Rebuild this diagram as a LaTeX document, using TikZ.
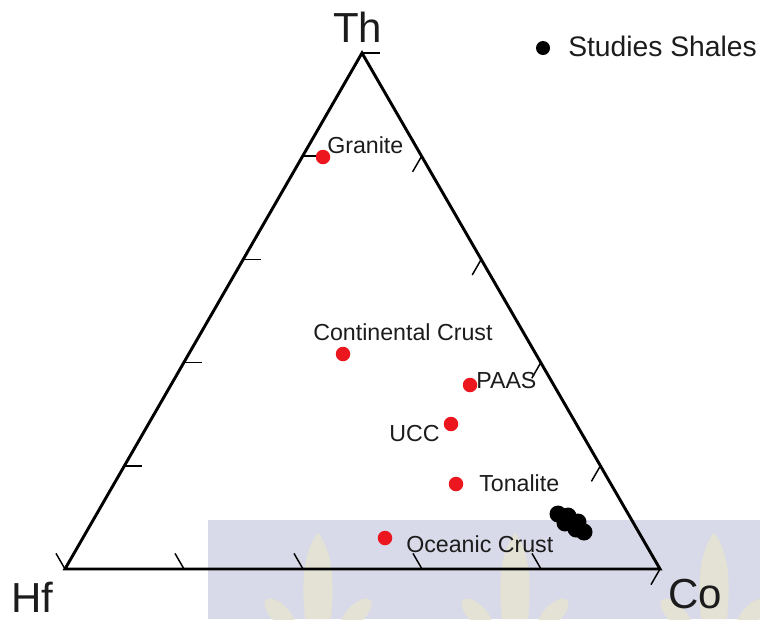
\documentclass[tikz,border=0pt]{standalone}
\usepackage{fontspec}
\setmainfont{Liberation Sans}
\usetikzlibrary{calc}
\definecolor{wm}{RGB}{216,217,233}
\definecolor{leaf}{RGB}{228,226,212}
\definecolor{dotred}{RGB}{236,22,30}
\definecolor{txt}{RGB}{28,28,28}
\tikzset{
  axis/.style={line width=2.2pt, line join=miter},
  tick/.style={line width=1.1pt},
  reddot/.style={circle, fill=dotred, inner sep=0pt, minimum size=14.5*0.75pt},
  blackdot/.style={circle, fill=black, inner sep=0pt, minimum size=17*0.75pt},
  lab/.style={anchor=base west, inner sep=0pt, text=txt, font=\fontsize{17.4pt}{20pt}\selectfont},
  big/.style={anchor=base west, inner sep=0pt, text=txt, font=\fontsize{31.5pt}{36pt}\selectfont},
  leg/.style={anchor=base west, inner sep=0pt, text=txt, font=\fontsize{21.2pt}{24pt}\selectfont}
}
\begin{document}
\begin{tikzpicture}[x=0.75pt,y=-0.75pt]
\useasboundingbox (0,0) rectangle (760,619);
% watermark
\fill[wm] (208,520) rectangle (760,619);
\foreach \cx in {318,515,714}{
  \fill[leaf] (\cx,533) .. controls (\cx-14,550) and (\cx-17,580) .. (\cx-13,619)
     -- (\cx+13,619) .. controls (\cx+17,580) and (\cx+14,550) .. (\cx,533);
  \fill[leaf, rotate around={45:(\cx-38,614)}] (\cx-38,614) ellipse (9 and 20);
  \fill[leaf, rotate around={-45:(\cx+38,614)}] (\cx+38,614) ellipse (9 and 20);
}
% vertices
\coordinate (Th) at (362,53);
\coordinate (Hf) at (65,569);
\coordinate (Co) at (660,569);
% ticks
\foreach \k in {0,1,2,3,4}{
  \draw[tick] ($(Th)!\k/5!(Hf)$) -- ++(18,0);
  \draw[tick] ($(Hf)!\k/5!(Co)$) -- ++(-9,-15.6);
  \draw[tick] ($(Co)!\k/5!(Th)$) -- ++(-9,15.6);
}
% triangle
\draw[axis] (Th) -- (Hf) -- (Co) -- cycle;
% apex labels
\node[big] (lTh) at (333,42) {Th};
\node[big] (lHf) at (11,612) {Hf};
\node[big] (lCo) at (668,608) {Co};
% reference points
\node[reddot] (granite) at (323,157) {};
\node[lab] (lgranite) at (327,153) {Granite};
\node[reddot] (cc) at (343,354) {};
\node[lab] (lcc) at (313,340) {Continental Crust};
\node[reddot] (paas) at (470,385) {};
\node[lab] (lpaas) at (476,388) {PAAS};
\node[reddot] (ucc) at (451,424) {};
\node[lab] (lucc) at (389,441) {UCC};
\node[reddot] (ton) at (456,484) {};
\node[lab] (lton) at (479,491) {Tonalite};
\node[reddot] (oc) at (385,538) {};
\node[lab] (loc) at (406,552) {Oceanic Crust};
% studied shales cluster
\node[blackdot] (s1) at (558,514) {};
\node[blackdot] (s2) at (568,516) {};
\node[blackdot] (s3) at (565,523) {};
\node[blackdot] (s4) at (578,522) {};
\node[blackdot] (s5) at (576,529) {};
\node[blackdot] (s6) at (584,532) {};
% legend
\node[circle, fill=black, inner sep=0pt, minimum size=14*0.75pt] (legdot) at (543,48) {};
\node[leg] (legtxt) at (568,56) {Studies Shales};
\end{tikzpicture}
\end{document}
